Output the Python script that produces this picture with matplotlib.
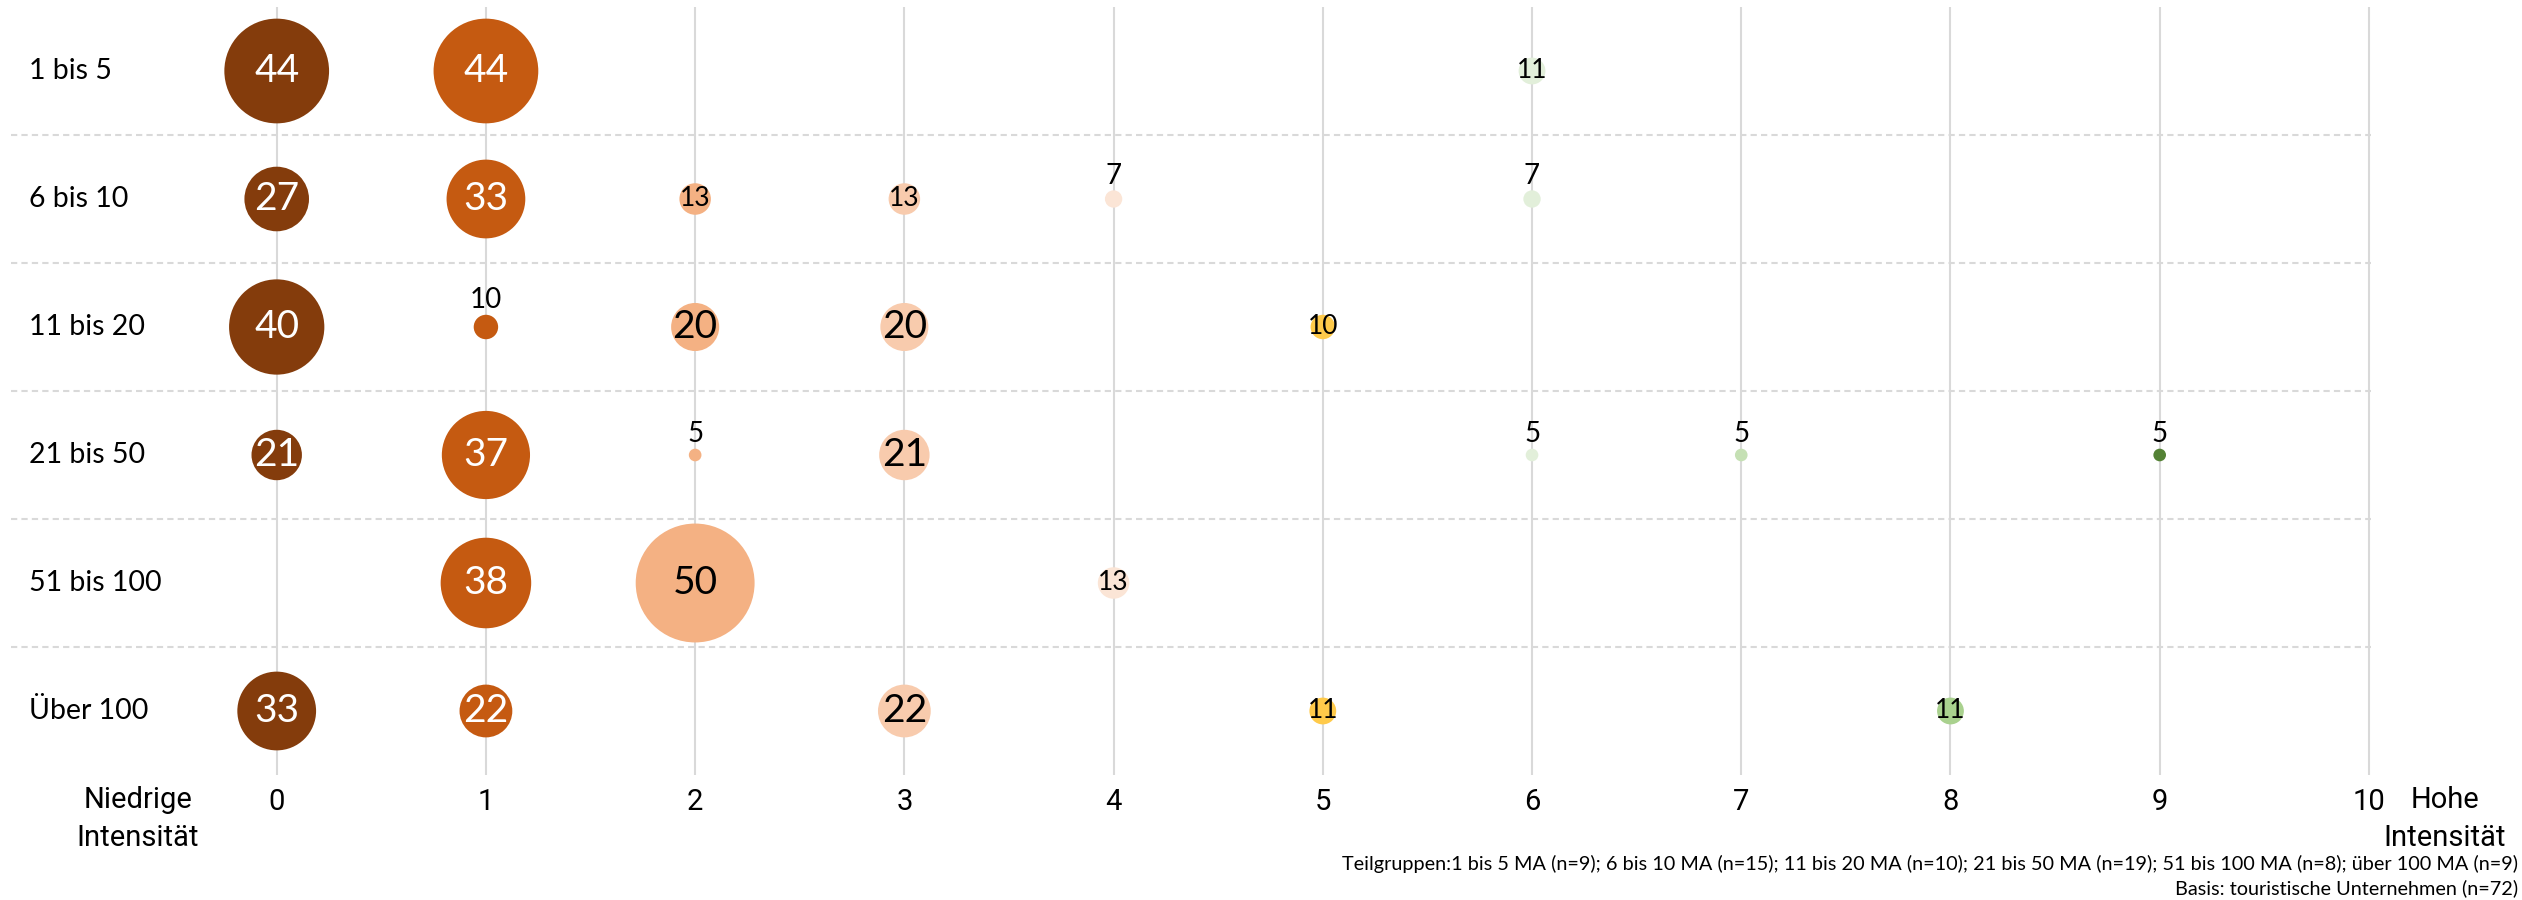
import numpy as np
import matplotlib
matplotlib.use("Agg")
import matplotlib.pyplot as plt

# data: one row per company size, (intensity score, share in %)
rows = ["1 bis 5", "6 bis 10", "11 bis 20", "21 bis 50", "51 bis 100", "Über 100"]
pts_1_5 = [(0, 44), (1, 44), (6, 11)]
pts_6_10 = [(0, 27), (1, 33), (2, 13), (3, 13), (4, 7), (6, 7)]
pts_11_20 = [(0, 40), (1, 10), (2, 20), (3, 20), (5, 10)]
pts_21_50 = [(0, 21), (1, 37), (2, 5), (3, 21), (6, 5), (7, 5), (9, 5)]
pts_51_100 = [(1, 38), (2, 50), (4, 13)]
pts_100 = [(0, 33), (1, 22), (3, 22), (5, 11), (8, 11)]
series = [pts_1_5, pts_6_10, pts_11_20, pts_21_50, pts_51_100, pts_100]
xticks = list(range(11))
footnote1 = ("Teilgruppen:1 bis 5 MA (n=9); 6 bis 10 MA (n=15); 11 bis 20 MA (n=10); "
             "21 bis 50 MA (n=19); 51 bis 100 MA (n=8); über 100 MA (n=9)")
footnote2 = "Basis: touristische Unternehmen (n=72)"

colors = ["#843C0C", "#C55A11", "#F4B183", "#F8CBAD", "#FBE5D6", "#FFCA4A",
          "#E2EFDA", "#C5E0B4", "#A9D18E", "#548235", "#385723"]
LBL = "Lato"; NUM = "Roboto"

W, H = 2522, 900
fig = plt.figure(figsize=(W/100, H/100), dpi=100)
ax = fig.add_axes([11/W, 1-775/H, 2360/W, 768/H])
ax.set_xlim(-1.27, 10.01); ax.set_ylim(5.5, -0.5)
for s in ax.spines.values(): s.set_visible(False)
ax.set_yticks([])
ax.set_xticks(xticks)
ax.set_xticklabels([str(t) for t in xticks], fontsize=21, family=NUM)
ax.tick_params(axis="x", length=0, pad=9)

for x in xticks:
    ax.axvline(x, color="#D9D9D9", lw=1.5, zorder=0)
for y in np.arange(0.5, len(rows)-1, 1.0):
    ax.axhline(y, color="#D9D9D9", lw=1.5, ls=(0, (3, 2)), zorder=0)

k = 1.70  # diameter in pt per percent
for r, (name, pts) in enumerate(zip(rows, series)):
    ax.text(-1.185, r, name, ha="left", va="center", fontsize=20.5, family=LBL)
    for x, v in pts:
        d = 0.6 + k*v
        ax.scatter(x, r, s=d**2, color=colors[x], edgecolors="none", zorder=2)
        tc = "white" if x <= 1 else "black"
        above = v < 10 or (v == 10 and x == 1)
        if above:
            ax.annotate(str(v), (x, r), xytext=(0, d/2+1), textcoords="offset points",
                        ha="center", va="bottom", fontsize=20, family=LBL, color="black")
        else:
            fs = 28 if v >= 20 else 19
            ax.text(x, r, str(v), ha="center", va="center", fontsize=fs, family=LBL,
                    color=tc, zorder=3)

fig.text(138/W, 1-819/H, "Niedrige\nIntensität", ha="center", va="center",
         fontsize=21, family=NUM, linespacing=1.45)
fig.text(2445/W, 1-819/H, "Hohe\nIntensität", ha="center", va="center",
         fontsize=21, family=NUM, linespacing=1.45)
fig.text(2518/W, 1-864/H, footnote1, ha="right", va="center", fontsize=14.3, family=LBL)
fig.text(2518/W, 1-888/H, footnote2, ha="right", va="center", fontsize=14.3, family=LBL)

fig.savefig("out.png", dpi=100)
